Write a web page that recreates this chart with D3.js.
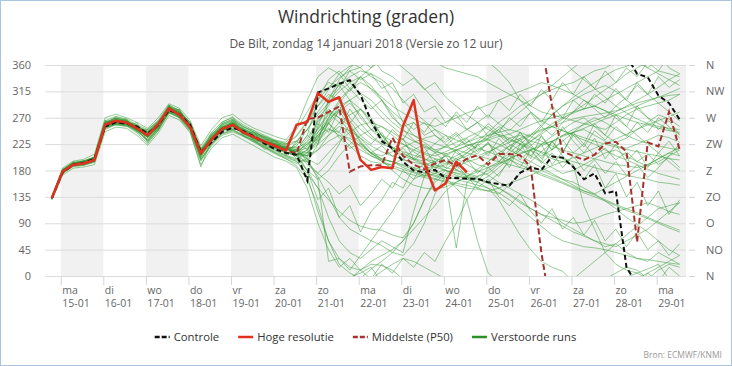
<!DOCTYPE html>
<html><head><meta charset="utf-8">
<script src="https://cdn.jsdelivr.net/npm/d3@7"></script>
<style>body{margin:0;background:#fff}svg{display:block}text{font-family:"Open Sans",sans-serif}</style>
</head><body><svg id="c" width="732" height="366"></svg>
<script>
// ---------- DATA ----------
const dayNames = ["ma","di","wo","do","vr","za","zo","ma","di","wo","do","vr","za","zo","ma"];
const dayDates = ["15-01","16-01","17-01","18-01","19-01","20-01","21-01","22-01","23-01","24-01","25-01","26-01","27-01","28-01","29-01"];
const yTicks = [0,45,90,135,180,225,270,315,360];
const compass = ["N","NO","O","ZO","Z","ZW","W","NW","N"];
const runHourOffset = -11;   // run 14-01 12 UTC = 13:00 local, hours relative to 15-01 00:00
const stepHours = 6;         // lead time step (6,12,...,360 h)
const legendItems = ["Controle","Hoge resolutie","Middelste (P50)","Verstoorde runs"];

const hoogResolutie = [133,178,190,192,198,258,265,262,252,240,
  259,286,275,254,209,233,251,258,245,237,
  229,222,214,258,263,312,297,305,255,198,
  181,186,184,256,300,192,146,158,195,177];

const controle = [133,176,190,193,200,255,262,260,255,243,
  258,283,276,258,212,228,246,253,247,238,
  226,216,210,207,163,313,320,328,334,309,
  265,230,218,195,180,177,181,167,167,166,
  166,160,157,154,176,185,181,204,202,186,
  165,175,141,145,15,345,339,308,295,267];

const middelste = [133,178,190,193,199,256,264,261,252,241,
  257,285,276,256,210,233,251,258,246,238,
  229,221,214,209,268,270,280,289,178,187,
  189,189,236,205,190,182,192,198,188,200,
  206,190,208,208,206,186,40,290,212,205,
  198,207,226,229,212,58,228,221,280,215];

const perturbedRuns = [
 [134,181,193,196,203,262,270,264,256,244, 262,288,279,258,214,240,258,266,252,242, 236,228,224,238,262,300,322,338,350,356, 12,25,40,60,90,130,160,175,185,195, 200,210,222,235,240,230,225,238,250,262, 270,255,240,228,235,250,262,275,268,255],
 [132,176,188,190,195,252,260,258,248,232, 252,280,272,250,200,226,244,250,240,230, 220,210,200,188,165,120,60,20,5,355, 340,330,300,262,240,228,215,205,200,190, 180,172,160,150,140,130,118,105,90,80, 70,60,50,55,40,30,25,40,30,20],
 [133,179,191,193,199,255,266,265,254,242, 258,284,276,256,212,230,248,256,246,236, 228,220,210,205,180,150,100,60,40,30, 45,60,50,40,110,170,190,185,180,175, 170,175,190,200,210,215,225,230,240,245, 250,240,230,222,218,225,232,240,236,228],
 [135,182,194,197,202,265,272,268,258,250, 266,292,282,262,218,245,263,270,258,248, 240,232,228,250,280,310,330,325,300,270, 250,240,230,225,215,208,200,196,205,215, 230,245,262,275,290,300,310,318,325,330, 340,350,355,5,15,10,355,345,335,325],
 [131,175,187,189,194,250,258,256,244,226, 248,278,270,248,196,222,240,246,238,228, 218,208,200,192,200,215,240,262,275,285, 265,240,220,210,200,192,186,180,176,172, 168,160,150,138,125,115,105,100,95,90, 92,98,105,110,115,120,125,118,110,105],
 [134,180,192,194,201,260,268,262,250,238, 255,283,276,255,206,236,255,262,248,240, 230,225,220,230,250,275,295,315,330,340, 325,300,275,250,232,220,212,208,215,222, 228,232,238,242,250,258,265,270,275,280, 285,290,300,310,320,330,340,350,345,340],
 [133,177,189,191,197,256,262,259,249,236, 250,282,273,252,203,228,247,254,243,234, 224,215,205,198,195,225,262,290,300,285, 260,235,215,205,198,190,185,190,198,205, 215,225,215,205,195,188,180,172,165,160, 150,140,128,115,100,88,75,60,45,35],
 [132,178,190,194,200,259,264,260,251,241, 256,287,278,257,208,235,250,257,244,236, 226,218,212,208,230,262,285,270,245,225, 210,205,212,220,228,235,240,225,210,200, 190,185,195,210,225,240,258,275,290,305, 318,330,342,352,358,5,12,20,355,345],
 [134,179,191,192,198,257,263,261,253,245, 260,285,274,253,210,232,252,260,247,239, 231,224,218,220,195,170,135,100,80,70, 60,52,40,35,55,90,140,170,190,200, 205,212,220,228,235,242,250,255,248,240, 232,225,215,205,198,190,182,175,170,165],
 [133,178,190,193,199,258,265,263,253,243, 258,286,275,255,210,234,252,259,246,238, 230,223,216,212,225,245,270,300,320,340, 355,8,20,30,25,15,5,355,350,345, 340,330,320,310,300,290,280,275,270,265, 260,255,250,262,275,285,290,295,300,310],
 [134,180,191,194,201,261,267,263,251,239, 257,284,277,257,211,237,254,261,249,240, 233,226,219,215,240,300,335,350,330,310, 290,270,255,240,230,222,215,220,228,236, 245,255,240,225,215,205,195,185,175,180, 190,200,210,215,205,195,188,195,205,215],
 [132,177,189,191,196,254,261,259,250,238, 253,281,272,251,206,229,248,255,242,233, 222,214,206,200,210,230,250,245,230,215, 205,198,195,190,185,180,175,170,165,160, 155,150,142,130,115,100,85,70,60,55, 50,48,45,40,35,30,28,25,22,20],
 [133,179,192,195,200,260,266,262,252,241, 257,288,280,260,215,242,260,268,255,245, 238,230,225,240,265,290,310,300,270,250, 235,225,218,212,206,200,195,192,200,210, 222,235,250,265,280,295,310,325,340,355, 10,25,40,55,70,85,100,115,120,125],
 [134,181,193,195,202,263,269,265,255,246, 263,290,281,259,213,238,256,263,251,244, 237,229,222,210,180,165,180,205,225,240, 250,255,245,232,220,210,205,212,220,228, 235,240,245,250,245,238,230,222,215,210, 205,200,195,190,188,185,190,200,210,220],
 [132,176,188,190,196,253,259,257,246,230, 249,279,270,249,198,225,243,249,240,231, 221,212,204,196,170,110,60,30,15,10, 25,35,45,60,80,100,120,145,160,170, 178,185,192,200,208,215,222,230,238,245, 252,260,268,275,282,290,298,305,312,320],
 [133,178,191,193,198,257,264,262,254,244, 259,285,276,256,209,233,251,258,247,239, 232,225,218,214,218,235,270,295,318,330, 320,305,290,278,268,260,255,262,270,278, 285,292,300,308,315,322,330,325,318,310, 300,290,282,275,268,262,258,252,248,245],
 [134,180,192,196,201,261,266,264,255,247, 262,289,279,257,212,236,253,260,250,242, 234,227,221,218,228,250,275,290,260,230, 210,195,185,178,172,168,165,160,155,150, 148,145,150,158,165,172,180,188,195,202, 210,218,226,234,242,250,258,265,272,280],
 [133,177,190,192,197,255,263,260,249,237, 254,282,274,253,207,230,249,256,244,235, 227,219,211,205,215,238,252,240,222,205, 195,192,190,200,215,225,210,195,182,170, 165,160,175,195,215,235,255,275,290,300, 310,318,325,315,300,285,270,260,250,242],
 [134,179,191,193,200,259,265,261,252,242, 257,284,276,256,210,234,252,258,246,237, 229,221,214,208,205,255,300,335,355,10, 20,18,10,355,340,320,300,280,262,250, 240,232,225,215,205,195,185,175,165,155, 145,140,150,160,170,180,190,200,210,205],
 [132,178,190,192,198,256,263,261,251,240, 256,283,275,254,209,233,250,257,245,236, 228,221,215,209,200,190,210,230,245,258, 262,255,240,225,212,200,190,180,172,165, 160,170,185,200,215,230,245,260,270,278, 285,290,282,270,255,240,225,210,195,180],
 [133,180,192,194,199,258,264,263,253,243, 258,286,277,256,211,235,253,260,248,238, 230,222,216,210,190,175,195,225,260,285, 270,240,215,200,190,185,178,172,170,168, 165,158,150,140,128,115,105,95,85,75, 68,60,55,50,60,70,80,95,110,125],
 [134,178,190,193,200,257,265,262,251,239, 256,285,276,255,210,234,252,259,246,237, 229,222,215,209,210,225,240,255,248,235, 222,212,205,198,194,190,195,205,215,222, 228,235,242,235,225,215,205,215,230,245, 260,270,262,250,240,232,226,222,218,215],
 [133,178,191,192,198,257,264,261,251,240, 257,284,275,255,209,234,251,258,246,238, 230,223,216,212,235,265,280,270,255,235, 215,198,180,165,155,150,148,152,160,170, 182,195,210,222,232,240,248,255,262,268, 272,275,278,282,288,295,300,305,308,310],
 [134,181,193,196,203,262,269,266,256,248, 264,291,282,261,216,241,260,267,255,245, 238,231,226,230,250,280,305,325,340,350, 345,335,320,300,280,265,250,240,232,225, 218,212,205,198,190,182,175,168,160,152, 145,138,130,122,115,108,100,92,85,78],
 [131,175,187,189,195,252,259,257,247,233, 250,279,271,249,199,224,242,248,239,229, 219,210,202,195,175,150,130,110,95,85, 80,78,70,65,90,130,165,180,175,168, 160,150,130,100,70,45,25,15,8,350, 335,320,305,290,278,268,260,255,252,250],
 [133,179,191,194,199,258,266,263,253,242, 258,285,277,256,210,235,253,259,247,238, 231,224,217,213,205,235,268,282,255,228, 208,200,195,185,178,172,166,162,158,155, 150,145,140,155,175,195,212,228,240,250, 258,265,272,280,290,300,310,322,335,345],
 [134,179,192,194,201,259,266,262,252,241, 258,286,276,255,209,233,251,259,247,238, 230,223,217,211,200,165,25,30,10,35, 60,85,110,140,165,175,170,165,48,160, 170,180,192,205,218,230,242,255,268,280, 292,305,318,330,345,355,5,15,25,35],
 [132,177,189,192,196,255,262,260,250,237, 254,283,274,253,207,231,249,256,244,235, 227,219,212,205,215,240,265,285,300,312, 300,280,262,248,240,232,226,220,215,210, 205,200,195,190,185,180,172,165,158,150, 142,135,128,120,112,105,98,90,82,75],
 [136,184,196,199,208,270,276,270,262,252, 270,294,286,265,222,250,270,276,262,252, 245,238,232,255,300,340,355,345,320,300, 285,300,270,255,262,240,250,232,245,228, 240,260,245,270,255,280,262,290,270,300, 285,310,295,320,300,330,310,340,322,335],
 [130,172,184,186,190,246,254,252,240,223, 244,274,266,244,190,218,236,242,232,222, 212,202,196,185,150,90,45,15,30,10, 355,20,5,30,15,40,25,60,90,130, 160,185,170,200,185,215,195,230,210,245, 225,260,240,275,255,290,270,250,265,240],
 [133,180,195,190,204,266,258,255,262,228, 248,292,268,246,186,232,262,272,238,232, 216,226,206,230,215,260,245,285,265,240, 225,245,215,235,200,220,190,205,180,200, 175,195,210,185,225,200,240,215,255,230, 210,235,200,225,195,215,185,210,230,205],
 [134,178,188,195,196,262,262,268,246,250, 264,280,284,252,214,226,246,266,242,246, 222,232,210,216,240,225,300,320,350,335, 345,320,330,295,310,280,290,262,275,250, 262,238,250,228,245,222,238,215,232,210, 225,205,218,198,212,195,208,190,202,185],
 [133,177,192,191,199,256,272,266,250,230, 252,290,270,258,202,238,256,250,250,240, 226,218,220,200,180,130,150,100,120,75, 110,130,160,150,185,170,200,185,215,195, 225,205,235,215,245,225,200,230,205,185, 165,190,150,175,135,160,120,145,105,130],
 [132,181,189,194,202,254,258,264,258,236, 255,278,280,262,208,244,250,252,252,230, 232,216,222,215,210,270,290,330,315,340, 318,300,280,265,250,262,240,228,242,220, 208,228,195,215,235,205,225,190,212,240, 220,248,232,255,238,262,245,270,255,235],
 [135,182,192,197,197,260,270,261,256,244, 262,287,284,252,218,228,258,264,254,248, 234,230,216,222,250,230,260,245,285,260, 240,225,250,232,262,245,270,255,280,262, 290,270,300,282,310,290,318,300,330,310, 340,320,350,330,355,340,5,350,15,0],
 [134,179,193,193,203,263,263,258,248,232, 254,286,278,260,212,240,252,255,246,238, 230,222,216,205,195,175,160,140,155,120, 140,165,150,180,165,195,180,210,190,170, 150,165,135,120,140,110,90,115,80,100, 70,95,60,80,50,75,45,60,35,55],
 [133,179,190,196,198,259,265,262,252,238, 258,283,276,256,214,236,248,262,250,236, 228,226,218,212,202,246,262,236,218,226, 210,222,204,218,198,210,226,240,220,235, 212,228,205,222,198,215,192,210,185,205, 180,198,175,195,172,190,168,185,205,225],
 [134,180,190,192,200,257,267,265,254,246, 260,289,280,257,206,236,254,262,248,242, 236,224,212,226,260,290,318,345,358,5, 15,350,340,325,338,318,330,305,290,275, 262,250,240,232,226,218,212,206,200,195, 190,185,180,176,172,168,165,160,158,155],
 [133,178,190,193,199,258,264,262,252,241, 257,285,276,256,211,234,252,259,246,238, 230,223,216,212,225,240,260,280,295,275, 250,232,218,208,200,196,210,222,238,250, 262,275,260,248,265,278,255,240,262,280, 300,285,270,290,305,325,310,295,280,265],
 [132,177,191,190,197,255,261,259,249,237, 255,284,273,252,205,230,249,256,243,234, 226,219,212,207,222,252,278,262,240,220, 205,196,188,182,176,170,175,182,195,210, 225,240,255,242,230,220,210,200,195,190, 120,80,40,20,10,5,355,10,20,15],
 [133,179,191,193,199,258,265,262,252,240, 257,285,276,255,210,234,252,258,246,238, 229,222,215,210,205,215,230,240,235,222, 210,200,195,188,182,176,172,168,150,130, 60,5,350,330,300,280,265,255,248,242, 236,230,225,220,216,212,208,205,200,198]
];
perturbedRuns.forEach((r,k)=>{ if(r.length!==60) throw new Error('run '+k+' has '+r.length); });
if (controle.length!==60 || middelste.length!==60 || hoogResolutie.length!==40) throw new Error('len');

// ---------- LAYOUT ----------
const W = 732, H = 366;
const plot = {l:45, r:686, t:65, b:276};
const svg = d3.select("#c");

const x = d3.scaleLinear().domain([-0.37, 14.69]).range([plot.l, plot.r]);
const y = d3.scaleLinear().domain([0,360]).range([plot.b, plot.t]);
const dayOf = i => (runHourOffset + stepHours*(i+1))/24;

// border
svg.append("rect").attr("x",0.5).attr("y",0.5).attr("width",W-1).attr("height",H-1)
  .attr("fill","#fff").attr("stroke","#a9c6e0");

// title
svg.append("text").attr("x",366).attr("y",23).attr("text-anchor","middle")
  .attr("font-size",17.5).attr("fill","#333").text("Windrichting (graden)");
svg.append("text").attr("x",366).attr("y",48).attr("text-anchor","middle")
  .attr("font-size",12).attr("fill","#555").text("De Bilt, zondag 14 januari 2018 (Versie zo 12 uur)");

// bands
const bandDays = d3.range(0, dayNames.length, 2);
svg.append("g").selectAll("rect").data(bandDays).join("rect")
  .attr("x", d=>x(d)).attr("y", plot.t)
  .attr("width", d=>Math.min(x(d+1), plot.r) - x(d))
  .attr("height", plot.b-plot.t).attr("fill","#f1f1f1");

// grid
svg.append("g").selectAll("line").data(yTicks).join("line")
  .attr("x1",plot.l).attr("x2",plot.r).attr("y1",d=>y(d)+0.5).attr("y2",d=>y(d)+0.5)
  .attr("stroke","#dcdcdc");

// left axis labels
const yAxisL = d3.axisLeft(y).tickValues(yTicks).tickSize(0).tickPadding(14);
const gL = svg.append("g").attr("transform",`translate(${plot.l},0)`).call(yAxisL);
gL.select(".domain").remove();
gL.selectAll("text").attr("font-size",11).attr("fill","#666").attr("font-family","Open Sans");

// right axis
const yAxisR = d3.axisRight(y).tickValues(yTicks).tickSize(6).tickPadding(11)
  .tickFormat((d,i)=>compass[i]);
const gR = svg.append("g").attr("transform",`translate(${plot.r+3},0)`).call(yAxisR);
gR.select(".domain").remove();
gR.selectAll("line").attr("stroke","#ccd6e0");
gR.selectAll("text").attr("font-size",11).attr("fill","#666").attr("font-family","Open Sans");

// x axis
const xAxis = d3.axisBottom(x).tickValues(d3.range(dayNames.length)).tickSize(9).tickFormat("");
const gX = svg.append("g").attr("transform",`translate(0,${plot.b})`).call(xAxis);
gX.select(".domain").remove();
gX.selectAll("line").attr("stroke","#ccd6e0");
gX.selectAll(".tick").each(function(d){
  const t = d3.select(this).append("text").attr("fill","#666").attr("font-size",10.5)
    .attr("font-family","Open Sans").attr("text-anchor","start");
  t.append("tspan").attr("x",1).attr("y",18).text(dayNames[d]);
  t.append("tspan").attr("x",1).attr("y",31).text(dayDates[d]);
});

// clip
svg.append("clipPath").attr("id","clip").append("rect")
  .attr("x",plot.l).attr("y",plot.t).attr("width",plot.r-plot.l).attr("height",plot.b-plot.t);
const gData = svg.append("g").attr("clip-path","url(#clip)");

// wrap-aware segmenting of direction series
function segments(vals){
  const segs=[]; let cur=[];
  for(let i=0;i<vals.length;i++){
    const v=vals[i];
    if(v==null){ if(cur.length) segs.push(cur); cur=[]; continue; }
    if(!cur.length){ cur.push([i,v]); continue; }
    const p=vals[i-1], d=v-p;
    if(d>180){ cur.push([i,v-360]); segs.push(cur); cur=[[i-1,p+360],[i,v]]; }
    else if(d<-180){ cur.push([i,v+360]); segs.push(cur); cur=[[i-1,p-360],[i,v]]; }
    else cur.push([i,v]);
  }
  if(cur.length) segs.push(cur);
  return segs;
}
const line = d3.line().x(d=>x(dayOf(d[0]))).y(d=>y(d[1]));

function drawSeries(vals, attrs){
  const g = gData.append("g");
  segments(vals).forEach(s=>{
    const p = g.append("path").attr("d",line(s)).attr("fill","none");
    for(const k in attrs) p.attr(k, attrs[k]);
  });
}

perturbedRuns.forEach(r=>drawSeries(r,{stroke:"#2f9a2f","stroke-width":1,"stroke-opacity":0.5,"stroke-linejoin":"round"}));
drawSeries(middelste,{stroke:"#fff","stroke-width":1.2,"stroke-opacity":0.8});
drawSeries(middelste,{stroke:"#a8322d","stroke-width":2,"stroke-dasharray":"6,3"});
drawSeries(controle,{stroke:"#111","stroke-width":2,"stroke-dasharray":"5,3"});
drawSeries(hoogResolutie,{stroke:"#e0301e","stroke-width":2.5,"stroke-linejoin":"round"});

// legend (laid out from measured text widths, centred)
const legendStyle = [
  {stroke:"#111",dash:"5,2"},{stroke:"#e0301e",dash:null},{stroke:"#a8322d",dash:"5,2"},{stroke:"#2a8f2a",dash:null}];
const gLeg = svg.append("g");
const items = legendItems.map((t,i)=>{
  const g = gLeg.append("g");
  g.append("line").attr("x1",0).attr("x2",15).attr("y1",0).attr("y2",0)
    .attr("stroke",legendStyle[i].stroke).attr("stroke-width",2.5)
    .attr("stroke-dasharray",legendStyle[i].dash);
  const tx = g.append("text").attr("x",19).attr("y",4).attr("font-size",11.3).attr("fill","#333").text(t);
  return {g, w: 19 + tx.node().getComputedTextLength()};
});
const gap = 19;
const total = d3.sum(items, d=>d.w) + gap*(items.length-1);
let cx = 365.5 - total/2;
items.forEach(it=>{ it.g.attr("transform",`translate(${cx},337)`); cx += it.w + gap; });

svg.append("text").attr("x",722).attr("y",358).attr("text-anchor","end")
  .attr("font-size",8.5).attr("fill","#999").text("Bron: ECMWF/KNMI");
</script></body></html>
